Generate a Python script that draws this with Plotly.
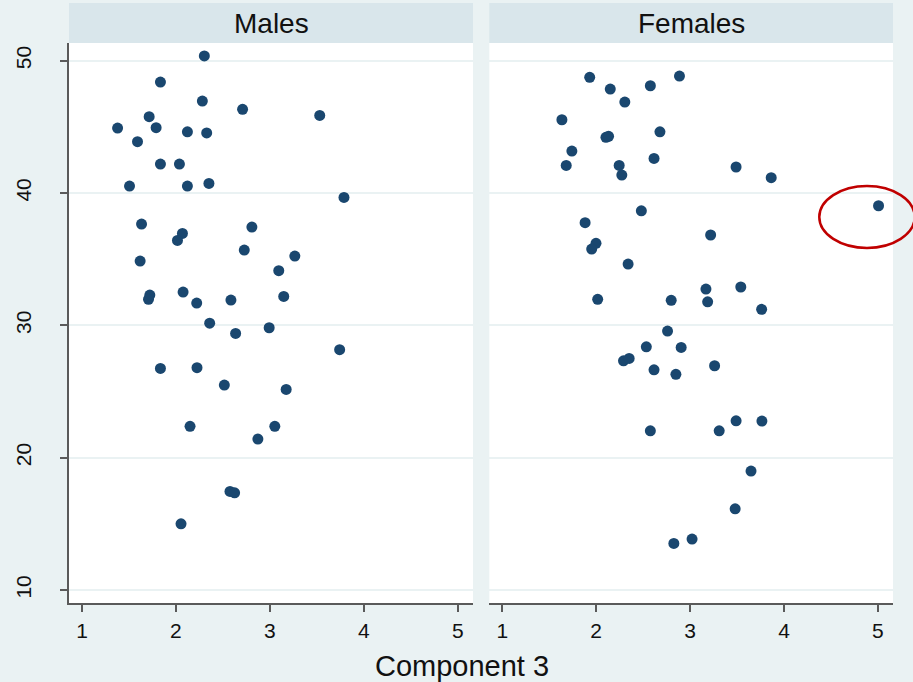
import plotly.graph_objects as go

# ---- data ----
males_x = [2.302, 1.835, 2.281, 2.709, 3.530, 1.715, 1.379, 1.789, 2.122, 2.327,
           1.591, 1.835, 2.037, 1.506, 2.122, 2.351, 3.788, 1.634, 2.808, 2.069,
           2.016, 2.727, 3.265, 1.619, 3.094, 1.722, 1.708, 2.076, 2.221, 2.585,
           3.147, 2.359, 2.992, 2.635, 3.742, 1.835, 2.224, 2.515, 3.173, 2.150,
           3.052, 2.872, 2.575, 2.624, 2.054]
males_y = [50.36, 48.39, 46.95, 46.33, 45.87, 45.77, 44.91, 44.94, 44.63, 44.54,
           43.88, 42.19, 42.19, 40.53, 40.53, 40.73, 39.67, 37.66, 37.43, 36.95,
           36.42, 35.69, 35.24, 34.86, 34.13, 32.29, 31.97, 32.52, 31.69, 31.91,
           32.19, 30.17, 29.82, 29.39, 28.16, 26.75, 26.80, 25.49, 25.16, 22.37,
           22.37, 21.41, 17.45, 17.35, 15.00]

females_x = [1.931, 2.887, 2.150, 2.577, 2.305, 1.635, 2.104, 2.132, 2.679, 1.741,
             1.681, 2.245, 2.273, 2.616, 3.490, 3.864, 5.007, 2.481, 1.882, 3.219,
             1.998, 1.952, 2.340, 3.169, 3.540, 2.016, 2.799, 3.187, 3.762, 2.760,
             2.534, 2.905, 2.291, 2.351, 2.616, 2.849, 3.261, 3.490, 3.765, 2.577,
             3.310, 3.649, 3.480, 2.827, 3.021]
females_y = [48.75, 48.84, 47.86, 48.11, 46.88, 45.54, 44.21, 44.29, 44.63, 43.17,
             42.09, 42.09, 41.36, 42.62, 41.97, 41.16, 39.04, 38.66, 37.76, 36.83,
             36.20, 35.77, 34.63, 32.74, 32.90, 31.97, 31.89, 31.78, 31.21, 29.57,
             28.38, 28.33, 27.32, 27.50, 26.64, 26.30, 26.95, 22.79, 22.77, 22.03,
             22.03, 18.99, 16.14, 13.52, 13.85]

panel_titles = ["Males", "Females"]
x_ticks = [1, 2, 3, 4, 5]
y_ticks = [10, 20, 30, 40, 50]
x_title = "Component 3"
# highlighted outlier (female panel), centre and half-axes in data units
outlier_center = (4.884, 38.19)
outlier_half = (0.508, 2.34)

# ---- style ----
BG = "#EAF2F3"
STRIP = "#D9E6EB"
MARK = "#1A476F"
AXC = "#5A5A5A"
FONT = "Liberation Sans, Arial, sans-serif"

XR = [0.862, 5.161]
YR = [9.02, 51.34]
dom1 = [0.0, 0.4903]
dom2 = [0.5101, 1.0]

fig = go.Figure()
fig.add_trace(go.Scatter(x=males_x, y=males_y, mode="markers", xaxis="x", yaxis="y",
                         marker=dict(color=MARK, size=11, line=dict(width=0)),
                         showlegend=False, cliponaxis=False))
fig.add_trace(go.Scatter(x=females_x, y=females_y, mode="markers", xaxis="x2", yaxis="y2",
                         marker=dict(color=MARK, size=11, line=dict(width=0)),
                         showlegend=False, cliponaxis=False))

xcommon = dict(range=XR, tickvals=x_ticks, ticktext=[str(v) for v in x_ticks],
               showgrid=False, zeroline=False, showline=True, linecolor=AXC, linewidth=1.5,
               ticks="outside", ticklen=7, tickwidth=1.5, tickcolor=AXC,
               tickfont=dict(family=FONT, size=21, color="#111"), ticklabelstandoff=1)
ycommon = dict(range=YR, tickvals=y_ticks, showgrid=True, gridcolor=BG, gridwidth=2,
               zeroline=False)

fig.update_layout(
    width=913, height=682,
    margin=dict(l=67, r=20, t=43, b=79),
    paper_bgcolor=BG, plot_bgcolor="white",
    font=dict(family=FONT, color="#111"),
    xaxis=dict(domain=dom1, anchor="y", **xcommon),
    xaxis2=dict(domain=dom2, anchor="y2", **xcommon),
    yaxis=dict(domain=[0, 1], anchor="x", showline=True, linecolor=AXC, linewidth=1.5,
               ticks="outside", ticklen=7, tickwidth=1.5, tickcolor=AXC,
               ticktext=[str(v) for v in y_ticks], tickangle=-90,
               tickfont=dict(family=FONT, size=21, color="#111"), ticklabelstandoff=21,
               **ycommon),
    yaxis2=dict(domain=[0, 1], anchor="x2", showline=False, showticklabels=False,
                ticks="", **ycommon),
)

# strips with panel titles
strip_top = 1.0714
for dom, title in zip([dom1, dom2], panel_titles):
    fig.add_shape(type="rect", xref="paper", yref="paper", x0=dom[0], x1=dom[1],
                  y0=1.0, y1=strip_top, fillcolor=STRIP, line=dict(width=0), layer="below")
    fig.add_annotation(xref="paper", yref="paper", x=(dom[0] + dom[1]) / 2,
                       y=(1.0 + strip_top) / 2, text=title, showarrow=False,
                       xanchor="center", yanchor="middle",
                       font=dict(family=FONT, size=28, color="#111"))

# x axis title
fig.add_annotation(xref="paper", yref="paper", x=0.477, y=-0.1125, text=x_title,
                   showarrow=False, xanchor="center", yanchor="middle",
                   font=dict(family=FONT, size=29, color="#111"))

# red ellipse around the outlier (paper coords so it is not clipped)
def to_paper_x(v, dom):
    return dom[0] + (v - XR[0]) / (XR[1] - XR[0]) * (dom[1] - dom[0])

def to_paper_y(v):
    return (v - YR[0]) / (YR[1] - YR[0])

cx, cy = outlier_center
hx, hy = outlier_half
fig.add_shape(type="circle", xref="paper", yref="paper",
              x0=to_paper_x(cx - hx, dom2), x1=to_paper_x(cx + hx, dom2),
              y0=to_paper_y(cy - hy), y1=to_paper_y(cy + hy),
              line=dict(color="#C00000", width=2.5))

fig.write_html("out.html", config={"displayModeBar": False},
               post_script="document.body.style.margin='0';document.body.style.overflow='hidden';")
